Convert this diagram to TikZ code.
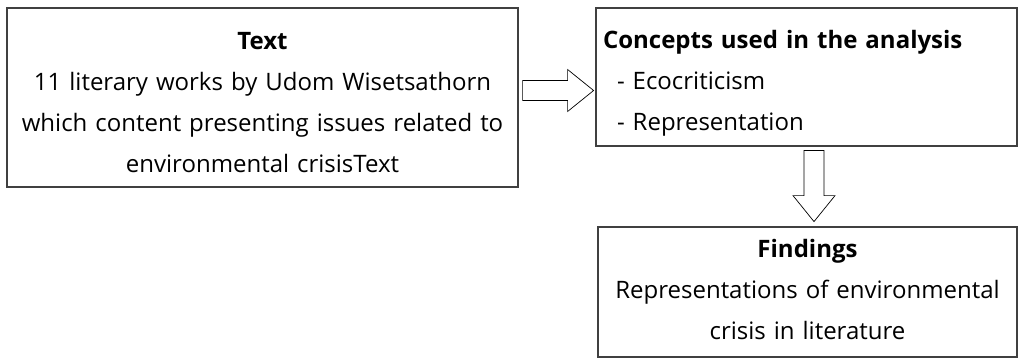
\documentclass[tikz,border=0pt]{standalone}
\usepackage{fontspec}
\setmainfont{Open Sans}
\usetikzlibrary{calc}

\begin{document}
\begin{tikzpicture}[
	x=1pt, y=1pt,
	framebox/.style={draw=black!75, line width=1.2pt, inner sep=7pt, font=\fontsize{24}{41}\selectfont},
	bigarrow/.pic={\draw [black, line width=0.7pt, fill=white] (0,10) -- (45,10) -- (45,21) -- (71,0) -- (45,-21) -- (45,-10) -- (0,-10) -- cycle;},
]
\useasboundingbox (0,0) rectangle (1019,-358);

%%% TEXT BOX
\node [framebox, minimum width=511, minimum height=179, text width=497, align=center] (text) at (262.5,-97.5)
	{\rule{0pt}{27pt}\textbf{Text}\\11 literary works by Udom Wisetsathorn\\which content presenting issues related to\\environmental crisisText};

%%% CONCEPTS BOX
\node [framebox, minimum width=421, minimum height=138, text width=407, align=left] (concepts) at (806.5,-77)
	{\rule{0pt}{30pt}\textbf{Concepts used in the analysis}\\\hspace{14pt}- Ecocriticism\\\hspace{14pt}- Representation};

%%% FINDINGS BOX
\node [framebox, minimum width=419, minimum height=130, text width=405, align=center] (findings) at (807.5,-292)
	{\textbf{Findings}\\Representations of environmental\\crisis in literature\rule[-5pt]{0pt}{5pt}};

%%% ARROWS
\coordinate (toconcepts) at ($(text.east)+(4,7)$);
\coordinate (tofindings) at ($(concepts.south)+(7.5,-4)$);
\pic at (toconcepts) {bigarrow};
\pic [rotate=-90] at (tofindings) {bigarrow};

\end{tikzpicture}
\end{document}
